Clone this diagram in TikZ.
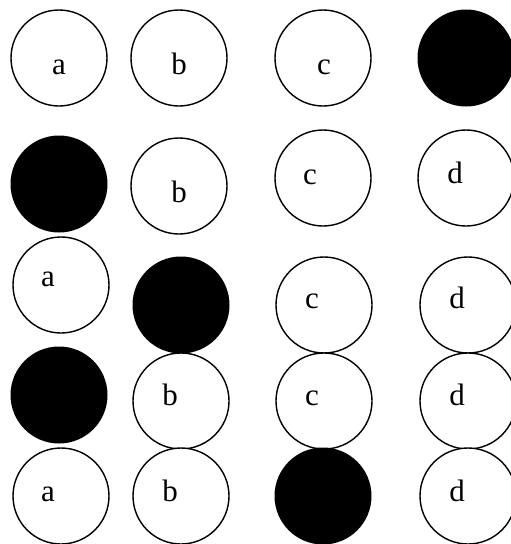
\documentclass[tikz,border=0pt]{standalone}
\usepackage{fontspec}
\setmainfont{Liberation Serif}
\begin{document}
\begin{tikzpicture}[x=1pt,y=-1pt,
  ring/.style={circle,draw=black,line width=1.4pt,fill=white,minimum size=96pt,inner sep=0pt},
  dot/.style={circle,fill=black,minimum size=97pt,inner sep=0pt},
  lbl/.style={anchor=base,inner sep=0pt,font=\fontsize{31}{33}\selectfont}]
\useasboundingbox (0,0) rectangle (511,544);
\clip (0,0) rectangle (511,544);
% row 1
\node[ring] (r1a) at (59,58) {};
\node[ring] (r1b) at (179,58) {};
\node[ring] (r1c) at (323,58) {};
\node[dot]  (r1d) at (466,58) {};
\node[lbl] (t1a) at (59,74) {a};
\node[lbl] (t1b) at (179,74) {b};
\node[lbl] (t1c) at (324,74) {c};
% row 2
\node[dot]  (r2a) at (59,184) {};
\node[ring] (r2b) at (179,186) {};
\node[ring] (r2c) at (323,178) {};
\node[ring] (r2d) at (466,178) {};
\node[lbl] (t2b) at (179,202) {b};
\node[lbl] (t2c) at (310,184) {c};
\node[lbl] (t2d) at (455,183) {d};
% row 3
\node[ring] (r3a) at (61,285) {};
\node[dot]  (r3b) at (181,305) {};
\node[ring] (r3c) at (324,305) {};
\node[ring] (r3d) at (468,305) {};
\node[lbl] (t3a) at (48,286) {a};
\node[lbl] (t3c) at (312,308) {c};
\node[lbl] (t3d) at (457,308) {d};
% row 4
\node[dot]  (r4a) at (59,395) {};
\node[ring] (r4b) at (181,401) {};
\node[ring] (r4c) at (324,401) {};
\node[ring] (r4d) at (468,401) {};
\node[lbl] (t4b) at (170,405) {b};
\node[lbl] (t4c) at (312,405) {c};
\node[lbl] (t4d) at (457,405) {d};
% row 5
\node[ring] (r5a) at (61,496) {};
\node[ring] (r5b) at (181,496) {};
\node[dot]  (r5c) at (323,496) {};
\node[ring] (r5d) at (468,496) {};
\node[lbl] (t5a) at (48,501) {a};
\node[lbl] (t5b) at (170,501) {b};
\node[lbl] (t5d) at (457,501) {d};
\end{tikzpicture}
\end{document}
